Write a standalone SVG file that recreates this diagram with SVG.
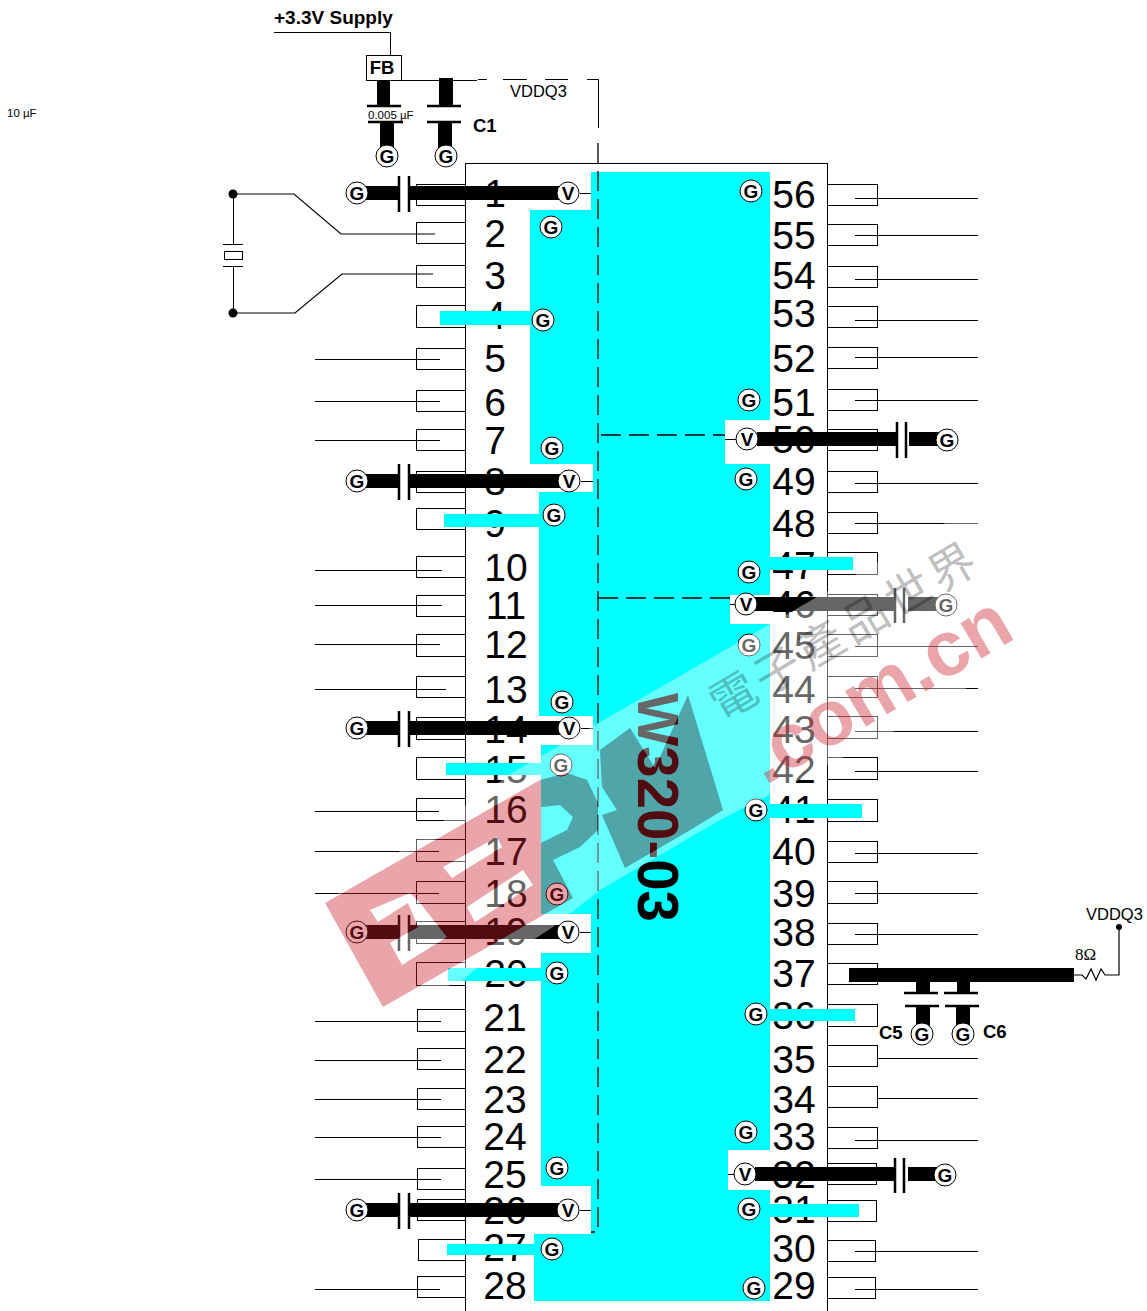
<svg xmlns="http://www.w3.org/2000/svg" width="1147" height="1311" viewBox="0 0 1147 1311">
<style>
text{font-family:"Liberation Sans",Arial,sans-serif;fill:#000}
.n{font-size:39px;text-anchor:middle}
.b{font-weight:bold;font-size:18.5px}
.l{font-size:16.5px}
.s{font-size:11.5px}
.box{fill:#fff;stroke:#000;stroke-width:1;shape-rendering:crispEdges}
.w{fill:none;stroke:#000;stroke-width:1.2}
.h{fill:none;stroke:#000;stroke-width:1;shape-rendering:crispEdges}
.d{fill:none;stroke:#000;stroke-width:1.3;stroke-dasharray:20 8}
.bar{fill:#000}
.cy{fill:#0ff}
.pl{stroke:#000;stroke-width:2.5;fill:none}
circle.t{fill:#fff;stroke:#000;stroke-width:1}
.gv{font-size:19px;font-weight:bold;text-anchor:middle;transform:translateY(1px)}
</style>
<defs>
<path id="logo" fill-rule="evenodd" d="M325 903L540 780L567 773L587 780L598 803L598 830L580 847L553 860L573 898L383 1007ZM541 807L560 805L573 817L567 830L541 843ZM370 910L410 893L420 903L447 937L402 965L390 943L418 927L408 903L378 922ZM443 867L497 837L502 847L452 878ZM467 907L523 870L533 885L475 922Z"/>
<path id="logo2" d="M600 750L630 728L655 768L688 695L723 810L692 829L625 868L602 815L617 810L602 787Z"/>
<mask id="mw" maskUnits="userSpaceOnUse" x="0" y="0" width="1147" height="1311">
<path fill="#fff" d="M325 903L512 773L985 500L1040 625L967 688L895 731L720 820L600 890L553 927L533 940L477 968L463 980L385 1012Z"/>
<use href="#logo" fill="#000"/>
<use href="#logo2" fill="#000"/>
</mask>
</defs>
<g id="chip">
<path class="h" d="M465 1311V163H827V1311"/>
</g>
<g id="pins-left">
<rect class="box" x="416" y="184" width="49" height="21"/><rect class="box" x="416" y="222" width="49" height="21"/><rect class="box" x="416" y="265" width="49" height="22"/><rect class="box" x="416" y="305" width="49" height="22"/><rect class="box" x="416" y="348" width="49" height="21"/><rect class="box" x="416" y="390" width="49" height="21"/><rect class="box" x="416" y="429" width="49" height="21"/><rect class="box" x="416" y="471" width="49" height="21"/><rect class="box" x="416" y="508" width="49" height="21"/><rect class="box" x="416" y="556" width="49" height="21"/><rect class="box" x="416" y="595" width="49" height="21"/><rect class="box" x="416" y="634" width="49" height="22"/><rect class="box" x="416" y="676" width="49" height="21"/><rect class="box" x="416" y="717" width="49" height="22"/><rect class="box" x="416" y="757" width="49" height="22"/><rect class="box" x="416" y="798" width="49" height="22"/><rect class="box" x="416" y="839" width="49" height="22"/><rect class="box" x="416" y="881" width="49" height="22"/><rect class="box" x="416" y="921" width="49" height="22"/><rect class="box" x="416" y="962" width="49" height="23"/><rect class="box" x="417" y="1009" width="48" height="22"/><rect class="box" x="417" y="1048" width="48" height="21"/><rect class="box" x="417" y="1088" width="48" height="21"/><rect class="box" x="417" y="1126" width="48" height="21"/><rect class="box" x="417" y="1168" width="48" height="21"/><rect class="box" x="417" y="1199" width="48" height="21"/><rect class="box" x="418" y="1239" width="47" height="21"/><rect class="box" x="417" y="1276" width="48" height="21"/>
</g>
<g id="pins-right">
<rect class="box" x="827" y="184" width="50" height="21"/><rect class="box" x="827" y="224" width="50" height="21"/><rect class="box" x="827" y="266" width="50" height="21"/><rect class="box" x="827" y="306" width="50" height="21"/><rect class="box" x="827" y="347" width="50" height="21"/><rect class="box" x="827" y="389" width="50" height="21"/><rect class="box" x="827" y="429" width="50" height="21"/><rect class="box" x="827" y="471" width="50" height="21"/><rect class="box" x="827" y="512" width="50" height="21"/><rect class="box" x="827" y="552" width="50" height="22"/><rect class="box" x="827" y="594" width="50" height="21"/><rect class="box" x="827" y="634" width="50" height="22"/><rect class="box" x="827" y="676" width="50" height="21"/><rect class="box" x="827" y="716" width="50" height="22"/><rect class="box" x="827" y="757" width="50" height="22"/><rect class="box" x="827" y="799" width="50" height="22"/><rect class="box" x="827" y="841" width="50" height="21"/><rect class="box" x="827" y="881" width="50" height="22"/><rect class="box" x="827" y="923" width="50" height="21"/><rect class="box" x="827" y="963" width="50" height="21"/><rect class="box" x="827" y="1004" width="50" height="22"/><rect class="box" x="827" y="1045" width="50" height="21"/><rect class="box" x="827" y="1086" width="50" height="21"/><rect class="box" x="827" y="1127" width="50" height="21"/><rect class="box" x="827" y="1163" width="49" height="21"/><rect class="box" x="827" y="1200" width="49" height="21"/><rect class="box" x="827" y="1240" width="48" height="21"/><rect class="box" x="827" y="1277" width="48" height="21"/>
</g>
<g id="pin-lines" class="h">
<path d="M315 359H440M315 401H440M315 440H440M315 570H442M315 605H442M315 644H440M315 689H446M315 811H439M315 851H439M315 893H439M315 1021H441M315 1060H441M315 1099H441M315 1137H441M315 1179H441M315 1289H440"/>
<path d="M855 198H978M855 235H978M855 279H978M855 320H978M855 357H978M855 400H978M855 483H978M855 523H978M855 646H978M855 688H978M855 731H978M855 771H978M855 853H978M855 893H978M855 934H978M877 1058H978M877 1098H978M855 1140H978M855 1251H978M855 1289H978"/>
</g>
<g id="pin-numbers" class="n" transform="translate(0,-1)">
<text x="495" y="208">1</text><text x="495" y="248">2</text><text x="495" y="290">3</text><text x="495" y="330">4</text><text x="495" y="373">5</text><text x="495" y="417">6</text><text x="495" y="455">7</text><text x="495" y="496">8</text><text x="495" y="538">9</text><text x="506" y="582">10</text><text x="506" y="620">11</text><text x="506" y="659">12</text><text x="506" y="704">13</text><text x="506" y="744">14</text><text x="506" y="784">15</text><text x="506" y="824">16</text><text x="506" y="866">17</text><text x="506" y="908">18</text><text x="506" y="946">19</text><text x="506" y="988">20</text><text x="505" y="1032">21</text><text x="505" y="1074">22</text><text x="505" y="1114">23</text><text x="505" y="1151">24</text><text x="505" y="1189">25</text><text x="505" y="1225">26</text><text x="505" y="1262">27</text><text x="505" y="1300">28</text>
<text x="794" y="209">56</text><text x="794" y="250">55</text><text x="794" y="290">54</text><text x="794" y="328">53</text><text x="794" y="373">52</text><text x="794" y="417">51</text><text x="794" y="454">50</text><text x="794" y="496">49</text><text x="794" y="538">48</text><text x="794" y="580">47</text><text x="794" y="619">46</text><text x="794" y="660">45</text><text x="794" y="704">44</text><text x="794" y="744">43</text><text x="794" y="784">42</text><text x="794" y="824">41</text><text x="794" y="866">40</text><text x="794" y="908">39</text><text x="794" y="947">38</text><text x="794" y="988">37</text><text x="794" y="1030">36</text><text x="794" y="1074">35</text><text x="794" y="1114">34</text><text x="794" y="1151">33</text><text x="794" y="1189">32</text><text x="794" y="1224">31</text><text x="794" y="1263">30</text><text x="794" y="1300">29</text>
</g>
<g id="plane">
<path class="cy" d="M591 172H770V420H725V464H770V595H730V624H770V1150H728V1190H770V1301H534V1234H591V1186H541V953H591V914H541V745H593V716H539V492H593V464H530V210H591Z"/>
<path class="cy" d="M440 311H530V325H440ZM444 514H540V527H444ZM446 763H541V775H446ZM448 968H541V981H448ZM447 1244H534V1255H447ZM770 557H853V570H770ZM770 804H862V818H770ZM770 1009H855V1021H770ZM770 1204H859V1217H770Z"/>
</g>
<g id="connectors">
<path class="h" d="M274 32H390V55"/>
<path class="h" d="M400 80H477"/>
<path class="h" d="M478 79H487M503 79H527M545 79H568M587 79H598V128"/>
<path class="d" d="M598 143V1232H591"/>
<path class="d" d="M601 435H725"/>
<path class="d" d="M598 598H730"/>
<path class="w" d="M233 194H294L341 234H435M233 313H295L342 274H433"/>
<path class="h" d="M233 194V244M233 266V313"/>
<path class="h" d="M223 244H243M223 266H243"/>
<rect class="box" x="224" y="251" width="18" height="8"/>
<path class="w" d="M1074 975H1082L1086 979L1091 969L1096 980L1101 969L1105 975H1119V927"/>
<path class="h" d="M580 193H591M581 481H593M581 728H593M580 932H591M580 1210H591M736 439H725M735 604H730M734 1174H728"/>
<rect class="bar" x="849" y="968" width="225" height="14"/>
<path class="bar" d="M916 982H930V993H916ZM916 1006H930V1030H916ZM957 982H970V993H957ZM956 1006H970V1030H956Z"/>
<path class="pl" d="M904 993H938M905 1006H939M944 993H978M945 1006H979"/>
<path class="bar" d="M377 80H390V106H377ZM380 122H394V150H380ZM439 78H453V106H439ZM438 122H452V150H438Z"/>
<path class="pl" d="M367 106H401M368 122H403M427 106H461M427 122H461"/>
<g id="bars">
<path class="bar" d="M366 186H398V200H366ZM410 186H560V200H410ZM366 474H398V488H366ZM410 474H560V488H410ZM366 721H398V735H366ZM410 721H560V735H410ZM366 925H398V939H366ZM410 925H560V939H410ZM366 1203H398V1217H366ZM410 1203H560V1217H410Z"/>
<path class="pl" d="M399 176V212M409 176V212M399 464V500M409 464V500M399 711V747M409 711V747M399 915V951M409 915V951M399 1193V1229M409 1193V1229"/>
<path class="bar" d="M757 432H896V446H757ZM909 432H940V446H909ZM755 597H895V611H755ZM908 597H938V611H908ZM755 1167H895V1181H755ZM908 1167H937V1181H908Z"/>
<path class="pl" d="M897 422V458M906 422V458M895 588V623M904 588V623M895 1158V1193M904 1158V1193"/>
</g>
</g>
<g id="labels">
<text class="b" x="274" y="24" style="font-size:19px">+3.3V Supply</text>
<text class="l" x="510" y="97">VDDQ3</text>
<text class="b" x="473" y="132">C1</text>
<text class="s" x="368" y="119">0.005 µF</text>
<text class="s" x="7" y="117">10 µF</text>
<text class="l" x="1086" y="920">VDDQ3</text>
<text x="1075" y="960" style="font-family:'Liberation Serif',serif;font-size:17px">8Ω</text>
<text class="b" x="879" y="1039">C5</text>
<text class="b" x="983" y="1038">C6</text>
<text font-size="58" font-weight="bold" transform="translate(638,693) rotate(90)" textLength="229" lengthAdjust="spacingAndGlyphs">W320-03</text>
</g>
<g id="node-fb"><rect class="box" x="366" y="55" width="35" height="25"/><text class="b" x="382" y="74" text-anchor="middle">FB</text></g>
<g id="junctions">
<circle cx="233" cy="194" r="4.5"/><circle cx="233" cy="313" r="4.5"/><circle cx="1119" cy="927" r="3"/>
</g>
<g id="terminals-g">
<circle class="t" cx="387" cy="156" r="11"/><text class="gv" x="387" y="162">G</text>
<circle class="t" cx="446" cy="156" r="11"/><text class="gv" x="446" y="162">G</text>
<circle class="t" cx="357" cy="193" r="11"/><text class="gv" x="357" y="199">G</text>
<circle class="t" cx="357" cy="481" r="11"/><text class="gv" x="357" y="487">G</text>
<circle class="t" cx="357" cy="728" r="11"/><text class="gv" x="357" y="734">G</text>
<circle class="t" cx="357" cy="932" r="11"/><text class="gv" x="357" y="938">G</text>
<circle class="t" cx="357" cy="1210" r="11"/><text class="gv" x="357" y="1216">G</text>
<circle class="t" cx="551" cy="227" r="11"/><text class="gv" x="551" y="233">G</text>
<circle class="t" cx="543" cy="320" r="11"/><text class="gv" x="543" y="326">G</text>
<circle class="t" cx="552" cy="448" r="11"/><text class="gv" x="552" y="454">G</text>
<circle class="t" cx="554" cy="515" r="11"/><text class="gv" x="554" y="521">G</text>
<circle class="t" cx="562" cy="702" r="11"/><text class="gv" x="562" y="708">G</text>
<circle class="t" cx="561" cy="765" r="11"/><text class="gv" x="561" y="771">G</text>
<circle class="t" cx="557" cy="894" r="11"/><text class="gv" x="557" y="900">G</text>
<circle class="t" cx="557" cy="973" r="11"/><text class="gv" x="557" y="979">G</text>
<circle class="t" cx="557" cy="1168" r="11"/><text class="gv" x="557" y="1174">G</text>
<circle class="t" cx="552" cy="1249" r="11"/><text class="gv" x="552" y="1255">G</text>
<circle class="t" cx="751" cy="191" r="11"/><text class="gv" x="751" y="197">G</text>
<circle class="t" cx="749" cy="400" r="11"/><text class="gv" x="749" y="406">G</text>
<circle class="t" cx="746" cy="479" r="11"/><text class="gv" x="746" y="485">G</text>
<circle class="t" cx="749" cy="572" r="11"/><text class="gv" x="749" y="578">G</text>
<circle class="t" cx="749" cy="645" r="11"/><text class="gv" x="749" y="651">G</text>
<circle class="t" cx="756" cy="810" r="11"/><text class="gv" x="756" y="816">G</text>
<circle class="t" cx="756" cy="1014" r="11"/><text class="gv" x="756" y="1020">G</text>
<circle class="t" cx="746" cy="1132" r="11"/><text class="gv" x="746" y="1138">G</text>
<circle class="t" cx="749" cy="1209" r="11"/><text class="gv" x="749" y="1215">G</text>
<circle class="t" cx="754" cy="1288" r="11"/><text class="gv" x="754" y="1294">G</text>
<circle class="t" cx="947" cy="440" r="11"/><text class="gv" x="947" y="446">G</text>
<circle class="t" cx="946" cy="605" r="11"/><text class="gv" x="946" y="611">G</text>
<circle class="t" cx="945" cy="1175" r="11"/><text class="gv" x="945" y="1181">G</text>
<circle class="t" cx="922" cy="1034" r="11"/><text class="gv" x="922" y="1040">G</text>
<circle class="t" cx="963" cy="1034" r="11"/><text class="gv" x="963" y="1040">G</text>
</g>
<g id="terminals-v">
<circle class="t" cx="568" cy="193" r="11"/><text class="gv" x="568" y="199">V</text>
<circle class="t" cx="569" cy="481" r="11"/><text class="gv" x="569" y="487">V</text>
<circle class="t" cx="569" cy="728" r="11"/><text class="gv" x="569" y="734">V</text>
<circle class="t" cx="568" cy="932" r="11"/><text class="gv" x="568" y="938">V</text>
<circle class="t" cx="568" cy="1210" r="11"/><text class="gv" x="568" y="1216">V</text>
<circle class="t" cx="747" cy="439" r="11"/><text class="gv" x="747" y="445">V</text>
<circle class="t" cx="746" cy="604" r="11"/><text class="gv" x="746" y="610">V</text>
<circle class="t" cx="745" cy="1174" r="11"/><text class="gv" x="745" y="1180">V</text>
</g>
<g id="watermark">
<rect width="1147" height="1311" fill="#fff" fill-opacity=".4" mask="url(#mw)"/>
<use href="#logo" fill="rgb(200,30,40)" fill-opacity=".4"/>
<use href="#logo2" fill="rgb(200,30,40)" fill-opacity=".4"/>
<text transform="translate(765,786) rotate(-30.5)" font-size="78" font-weight="bold" style="fill:rgb(200,30,40);fill-opacity:.4" textLength="293" lengthAdjust="spacingAndGlyphs">.com.cn</text>
<text transform="translate(722,722) rotate(-30.5)" font-size="46" style="font-family:'Noto Sans CJK TC','Noto Sans CJK SC',sans-serif;fill:#000;fill-opacity:.27" textLength="300" lengthAdjust="spacing">電子產品世界</text>
</g>
</svg>
